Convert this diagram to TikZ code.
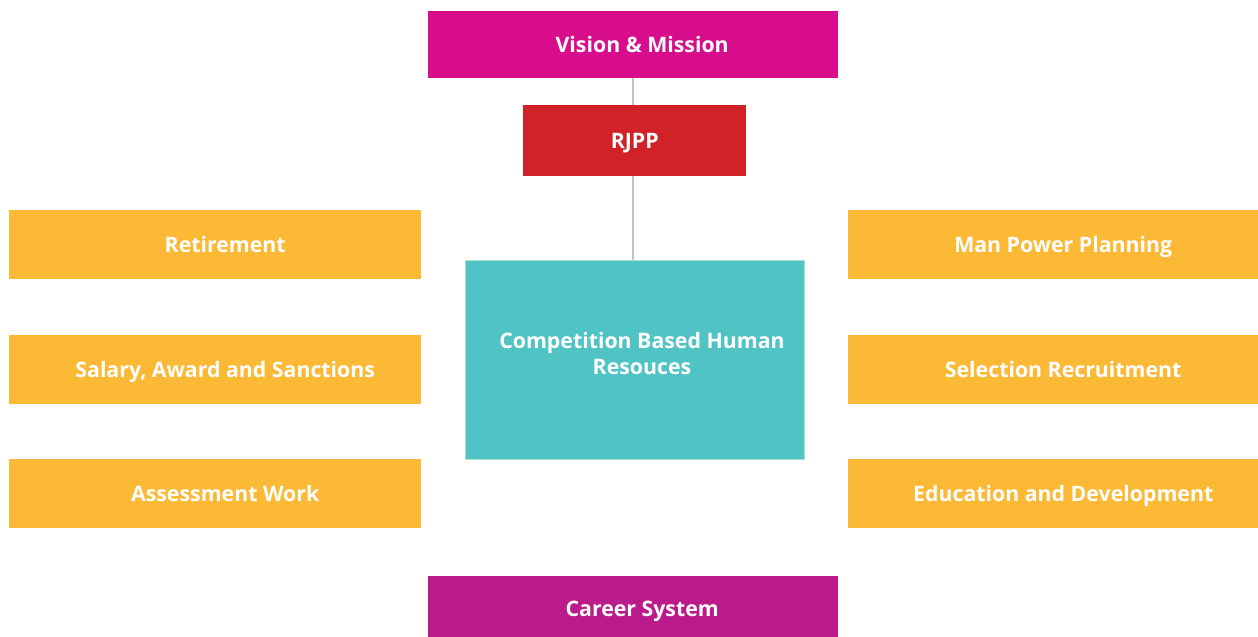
\documentclass[tikz,border=0pt]{standalone}
\usepackage{fontspec}
\setmainfont{Open Sans}
\usetikzlibrary{positioning}
\definecolor{visioncol}{HTML}{D80D8C}
\definecolor{rjppcol}{HTML}{D12228}
\definecolor{hrcol}{HTML}{50C3C5}
\definecolor{hredge}{HTML}{A8E0D0}
\definecolor{sidecol}{HTML}{FBB936}
\definecolor{careercol}{HTML}{BB1A8B}
\definecolor{linegray}{HTML}{C4C4C4}

\begin{document}
\begin{tikzpicture}[x=1pt,y=-1pt,
  boxfont/.style={text=white,font=\bfseries\fontsize{21.3}{26}\selectfont},
  box/.style={boxfont,inner sep=0pt,anchor=north west,text height=15pt,text depth=0pt},
  sidebox/.style={box,fill=sidecol,minimum width=412pt,minimum height=69pt,
    execute at begin node=\hspace*{20pt}},
  link/.style={draw=linegray,line width=1.3pt}]
  \useasboundingbox (0,0) rectangle (1258,637);
  % top and bottom
  \node[box,fill=visioncol,minimum width=410pt,minimum height=67pt,
    execute at begin node=\hspace*{18pt}] (vision) at (428,11) {Vision \& Mission};
  \node[box,fill=rjppcol,minimum width=223pt,minimum height=71pt] (rjpp) at (523,105) {RJPP};
  \node[box,fill=careercol,minimum width=410pt,minimum height=66pt,
    execute at begin node=\hspace*{18pt}] (career) at (428,576) {Career System};
  % centre
  \node[box,fill=hrcol,draw=hredge,line width=1pt,minimum width=339pt,minimum height=199pt] (hr) at (465,260) {};
  \node[boxfont,align=center,inner sep=0pt] (hrtext) at (642,354) {Competition Based Human\\Resouces};
  % left
  \node[sidebox] (retire) at (9,210) {Retirement};
  \node[sidebox] (salary) at (9,335) {Salary, Award and Sanctions};
  \node[sidebox] (assess) at (9,459) {Assessment Work};
  % right
  \node[sidebox,minimum width=410pt] (manpower) at (848,210) {Man Power Planning};
  \node[sidebox,minimum width=410pt] (select) at (848,335) {Selection Recruitment};
  \node[sidebox,minimum width=410pt] (educ) at (848,459) {Education and Development};
  % links
  \draw[link] (vision.south -| 633,0) -- (rjpp.north -| 633,0);
  \draw[link] (rjpp.south -| 633,0) -- (hr.north -| 633,0);
\end{tikzpicture}
\end{document}
